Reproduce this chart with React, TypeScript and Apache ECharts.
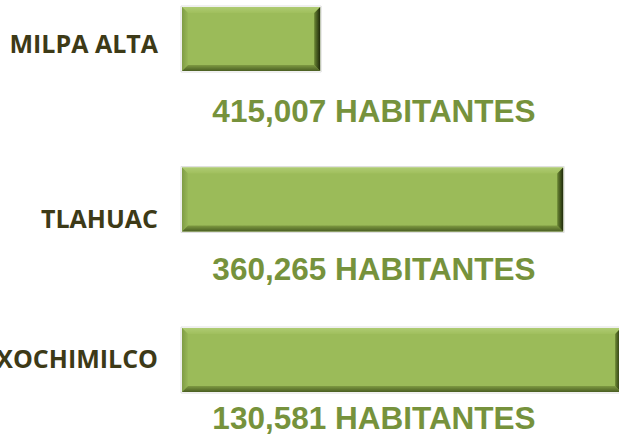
import React, { useEffect, useRef } from "react";
import * as echarts from "echarts";

const categories = ["MILPA ALTA", "TLAHUAC", "XOCHIMILCO"];
const population = [130581, 360265, 415007];
const valueLabels = ["415,007 HABITANTES", "360,265 HABITANTES", "130,581 HABITANTES"];
const axisMax = 413000;

// layout-only offsets (px) for texts relative to bars
const CAT_LABEL_DY = [4, 18, -2];
const VALUE_LABEL_DY = [39, 36, 25];

const BAR_H = 64;
const BEVEL = 6;

function lg(x: number, y: number, x2: number, y2: number, c1: string, c2: string) {
  return new echarts.graphic.LinearGradient(x, y, x2, y2, [
    { offset: 0, color: c1 },
    { offset: 1, color: c2 },
  ]);
}

export default function App() {
  const ref = useRef<HTMLDivElement>(null);
  useEffect(() => {
    document.body.style.margin = "0";
    const chart = echarts.init(ref.current!, null, { renderer: "svg" });
    chart.setOption({
      animation: false,
      backgroundColor: "#ffffff",
      grid: { left: 182, right: 0, top: 39, bottom: 76, containLabel: false },
      xAxis: { type: "value", min: 0, max: axisMax, show: false },
      yAxis: { type: "category", data: categories, inverse: true, boundaryGap: false, show: false },
      series: [
        {
          type: "custom",
          clip: false,
          data: population.map((v, i) => [v, i]),
          renderItem: (params: any, api: any) => {
            const v = api.value(0);
            const c = api.value(1);
            const s = api.coord([0, c]);
            const e = api.coord([v, c]);
            const x0 = s[0];
            const x1 = e[0];
            const y0 = s[1] - BAR_H / 2;
            const y1 = s[1] + BAR_H / 2;
            const b = BEVEL;
            return {
              type: "group",
              children: [
                {
                  type: "rect",
                  shape: { x: x0 - 1, y: y0 - 1, width: x1 - x0 + 2, height: y1 - y0 + 2 },
                  style: { fill: "none", stroke: "#e0e0e0", lineWidth: 1 },
                },
                {
                  type: "rect",
                  shape: { x: x0, y: y0, width: x1 - x0, height: y1 - y0 },
                  style: { fill: "#9bbb59" },
                },
                {
                  type: "polygon",
                  shape: { points: [[x0, y0], [x1, y0], [x1 - b, y0 + b], [x0 + b, y0 + b]] },
                  style: { fill: lg(0, 0, 0, 1, "#aecb72", "#a0bf5d") },
                },
                {
                  type: "polygon",
                  shape: { points: [[x0, y0], [x0 + b, y0 + b], [x0 + b, y1 - b], [x0, y1]] },
                  style: { fill: lg(0, 0, 1, 0, "#7f9c45", "#98b757") },
                },
                {
                  type: "polygon",
                  shape: { points: [[x0, y1], [x1, y1], [x1 - b, y1 - b], [x0 + b, y1 - b]] },
                  style: { fill: lg(0, 0, 0, 1, "#7e9a42", "#4a5e22") },
                },
                {
                  type: "polygon",
                  shape: { points: [[x1, y0], [x1 - b, y0 + b], [x1 - b, y1 - b], [x1, y1]] },
                  style: { fill: lg(0, 0, 1, 0, "#6b8734", "#1e280a") },
                },
                {
                  type: "text",
                  style: {
                    text: categories[c],
                    x: x0 - 24,
                    y: s[1] + CAT_LABEL_DY[c],
                    align: "right",
                    verticalAlign: "middle",
                    fill: "#3d3a17",
                    fontFamily: "Open Sans",
                    fontWeight: "bold",
                    fontSize: 25,
                  },
                },
                {
                  type: "text",
                  style: {
                    text: valueLabels[c],
                    x: x0 + 192,
                    y: y1 + VALUE_LABEL_DY[c] + 1,
                    align: "center",
                    verticalAlign: "middle",
                    fill: "#76923c",
                    fontFamily: "Liberation Sans",
                    fontWeight: "bold",
                    fontSize: 31.5,
                  },
                },
              ],
            };
          },
        },
      ],
    });
    return () => chart.dispose();
  }, []);
  return <div ref={ref} style={{ width: 619, height: 436 }} />;
}
